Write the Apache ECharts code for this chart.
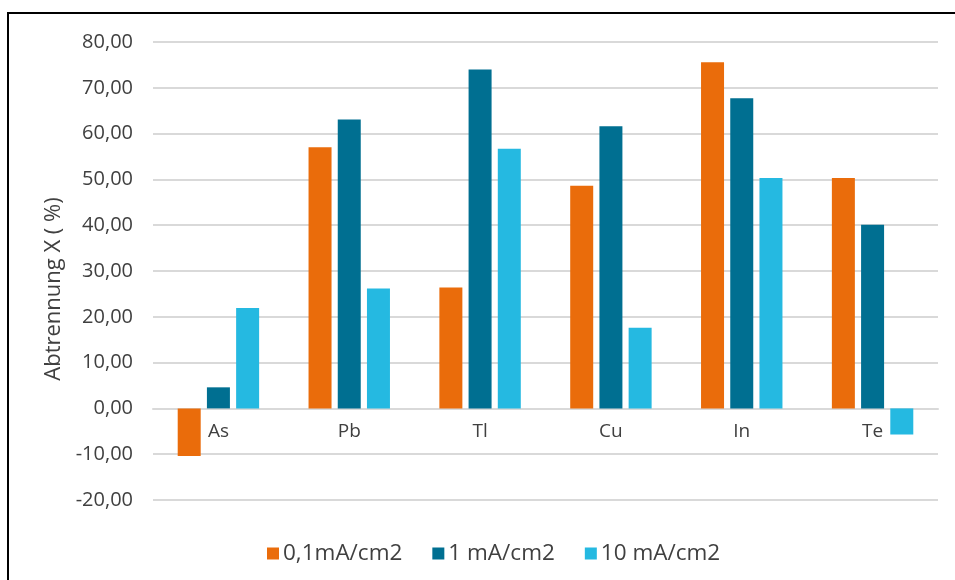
<!DOCTYPE html>
<html>
<head>
<meta charset="utf-8">
<script src="https://cdn.jsdelivr.net/npm/echarts@6/dist/echarts.min.js"></script>
<style>
  html, body { margin: 0; padding: 0; background: #fff; }
  #chart { width: 955px; height: 580px; }
</style>
</head>
<body>
<div id="chart"></div>
<script>
// Elements on the category axis
const categories = ['As', 'Pb', 'Tl', 'Cu', 'In', 'Te'];
// Separation X (%) per current density
const seriesNames = ['0,1mA/cm2', '1 mA/cm2', '10 mA/cm2'];
const low = [-10.4, 57.0, 26.4, 48.6, 75.6, 50.3];
const mid = [4.6, 63.1, 74.0, 61.6, 67.7, 40.1];
const high = [21.9, 26.2, 56.7, 17.6, 50.3, -5.7];
const colors = ['#EA6C0B', '#006F91', '#25B9E1'];
const yTicks = { min: -20, max: 80, interval: 10 };

const font = '"Open Sans", "Noto Sans", sans-serif';
const textColor = '#404040';

const gridTop = 42, gridBottom = 80, chartH = 580;
const plotH = chartH - gridTop - gridBottom;
// Move the category axis up so it sits on the zero value
const zeroOffset = -plotH * (0 - yTicks.min) / (yTicks.max - yTicks.min);

const chart = echarts.init(document.getElementById('chart'), null, { renderer: 'canvas' });

const makeBar = (name, data, color) => ({
  name,
  type: 'bar',
  data,
  barWidth: 23,
  barGap: '27%',
  itemStyle: { color },
  emphasis: { disabled: true }
});

chart.setOption({
  animation: false,
  backgroundColor: '#fff',
  graphic: [
    {
      type: 'polyline',
      shape: { points: [[8, 580], [8, 13], [955, 13]] },
      style: { stroke: '#000', lineWidth: 2, fill: null },
      silent: true
    }
  ],
  grid: { left: 153, right: 17, top: gridTop, bottom: gridBottom },
  legend: {
    top: 537,
    left: 262,
    itemWidth: 12,
    itemHeight: 12,
    itemGap: 30,
    icon: 'rect',
    textStyle: { fontFamily: font, fontSize: 22.5, color: textColor, padding: [0, 0, 0, -1] },
    data: seriesNames
  },
  xAxis: {
    type: 'category',
    data: categories,
    position: 'bottom',
    offset: zeroOffset,
    axisLine: { onZero: false, lineStyle: { color: '#d9d9d9', width: 2 } },
    axisTick: { show: false },
    axisLabel: { fontFamily: font, fontSize: 19, color: textColor, margin: 14 }
  },
  yAxis: {
    type: 'value',
    min: yTicks.min,
    max: yTicks.max,
    interval: yTicks.interval,
    name: 'Abtrennung X ( %)',
    nameLocation: 'middle',
    nameGap: 88,
    nameTextStyle: { fontFamily: font, fontSize: 22, color: textColor, padding: [0, 36, 0, 0] },
    axisLine: { show: false },
    axisTick: { show: false },
    axisLabel: {
      fontFamily: font,
      fontSize: 20,
      color: textColor,
      margin: 20,
      formatter: v => v.toFixed(2).replace('.', ',')
    },
    splitLine: { lineStyle: { color: '#d9d9d9', width: 2 } }
  },
  series: [
    makeBar(seriesNames[0], low, colors[0]),
    makeBar(seriesNames[1], mid, colors[1]),
    makeBar(seriesNames[2], high, colors[2])
  ]
});
</script>
</body>
</html>
